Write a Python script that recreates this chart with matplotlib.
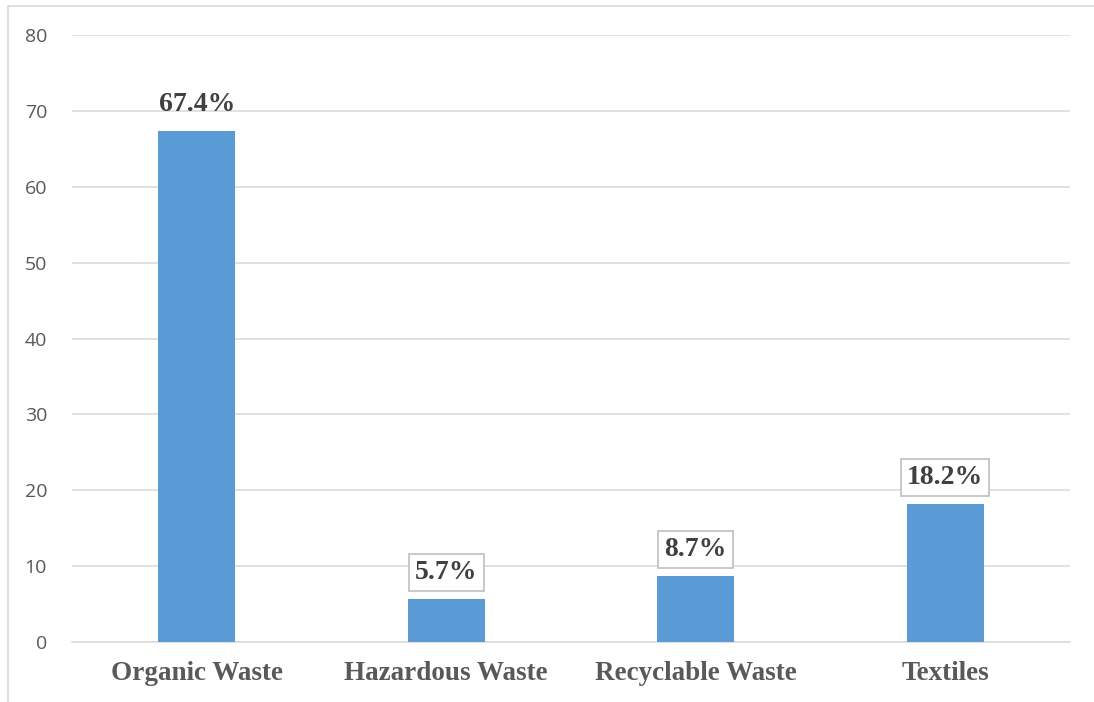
import matplotlib.pyplot as plt
import matplotlib.patches as mpatches

categories = ['Organic Waste', 'Hazardous Waste', 'Recyclable Waste', 'Textiles']
values = [67.4, 5.7, 8.7, 18.2]
labels = ['67.4%', '5.7%', '8.7%', '18.2%']
boxed = [False, True, True, True]
yticks = [0, 10, 20, 30, 40, 50, 60, 70, 80]


def main():
    fig = plt.figure(figsize=(10.94, 7.02), dpi=100)
    # chart area border (only left/top visible in the original crop)
    fig.patches.append(mpatches.Rectangle((8 / 1094, -0.1), 1.2, 1.1 - 6 / 702,
                                          transform=fig.transFigure, fill=False,
                                          edgecolor='#d9d9d9', linewidth=1.2))
    ax = fig.add_axes([72 / 1094, 1 - 642 / 702, (1070 - 72) / 1094, (642 - 35) / 702])

    x = range(len(categories))
    ax.bar(x, values, width=0.31, color='#5b9bd5', zorder=3)

    ax.set_xlim(-0.5, len(categories) - 0.5)
    ax.set_ylim(0, 80)
    ax.set_yticks(yticks)
    ax.set_yticklabels([str(t) for t in yticks], fontsize=14, color='#595959',
                       family='Open Sans')
    ax.set_xticks(list(x))
    ax.set_xticklabels(categories, fontsize=19.5, fontweight='bold', color='#595959',
                       family='Liberation Serif')
    ax.tick_params(axis='both', length=0)
    ax.tick_params(axis='y', pad=18)
    ax.tick_params(axis='x', pad=14)

    ax.grid(axis='y', color='#d9d9d9', linewidth=1.1, zorder=0)
    for s in ['top', 'right', 'left']:
        ax.spines[s].set_visible(False)
    ax.spines['bottom'].set_color('#d9d9d9')
    ax.spines['bottom'].set_linewidth(1.1)

    for i, (v, lab, b) in enumerate(zip(values, labels, boxed)):
        bbox = None
        if b:
            bbox = dict(boxstyle='square,pad=0.22', facecolor='white',
                        edgecolor='#bfbfbf', linewidth=1.2)
        ax.annotate(lab, (i, v), xytext=(0, 10), textcoords='offset points',
                    ha='center', va='bottom', fontsize=20, fontweight='bold',
                    color='#404040', family='Liberation Serif', bbox=bbox, zorder=4)

    fig.savefig('out.png', dpi=100)


if __name__ == "__main__":
    main()
